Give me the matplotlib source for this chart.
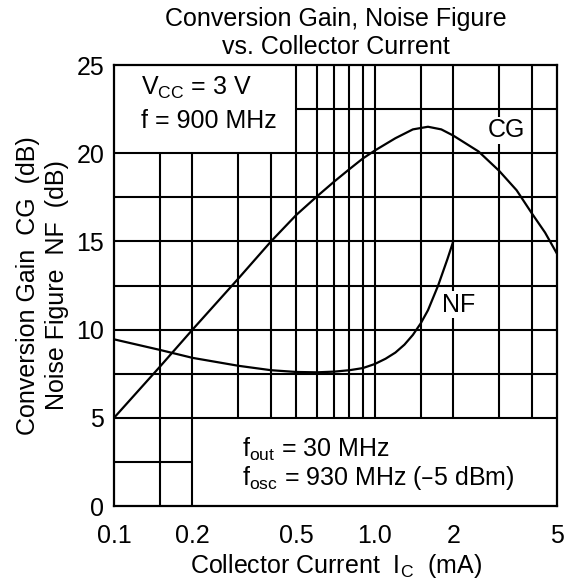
import matplotlib
matplotlib.use('Agg')
import matplotlib.pyplot as plt

plt.rcParams['font.family'] = ['Liberation Sans', 'DejaVu Sans']
plt.rcParams['mathtext.default'] = 'regular'

# Conversion gain CG (dB) vs collector current (mA)
cg_ic = [0.1, 0.15, 0.2, 0.3, 0.4, 0.5, 0.6, 0.7, 0.8, 0.9, 1.0, 1.2, 1.4, 1.6, 1.8, 2.0, 2.5, 3.0, 3.5, 4.0, 4.5, 5.0]
cg_db = [5.0, 7.9, 10.0, 12.9, 15.0, 16.5, 17.55, 18.4, 19.1, 19.7, 20.15, 20.85, 21.35, 21.5, 21.35, 21.0, 20.1, 19.0, 17.9, 16.6, 15.5, 14.3]

# Noise figure NF (dB)
nf_ic = [0.1, 0.15, 0.2, 0.3, 0.4, 0.5, 0.6, 0.7, 0.8, 0.9, 1.0, 1.1, 1.2, 1.3, 1.4, 1.5, 1.6, 1.75, 1.9, 2.0]
nf_db = [9.45, 8.85, 8.4, 7.95, 7.7, 7.6, 7.58, 7.62, 7.7, 7.82, 8.05, 8.35, 8.7, 9.15, 9.7, 10.35, 11.1, 12.5, 14.0, 15.0]

xticks = [0.1, 0.2, 0.5, 1.0, 2, 5]
xticklabels = ['0.1', '0.2', '0.5', '1.0', '2', '5']
yticks = [0, 5, 10, 15, 20, 25]

fig = plt.figure(figsize=(5.72, 5.83), dpi=100)
ax = fig.add_axes([0.1993, 0.132, 0.7745, 0.7565])
ax.set_xscale('log')
ax.set_xlim(0.1, 5)
ax.set_ylim(0, 25)

# grid, leaving blank areas behind the two notes
gk = dict(color='black', lw=1.5, zorder=1)
ax.vlines([0.15, 0.2], 0, 20, **gk)
ax.vlines([0.3, 0.4], 5, 20, **gk)
ax.vlines([0.5, 0.6, 0.7, 0.8, 0.9, 1.0, 1.5, 2, 3, 4], 5, 25, **gk)
ax.hlines(2.5, 0.1, 0.2, **gk)
ax.hlines([5, 7.5, 10, 12.5, 15, 17.5, 20], 0.1, 5, **gk)
ax.hlines(22.5, 0.5, 5, **gk)

ax.plot(cg_ic, cg_db, color='black', lw=1.6, zorder=3)
ax.plot(nf_ic, nf_db, color='black', lw=1.6, zorder=3)

fs = 18
ax.text(3.2, 21.3, 'CG', fontsize=fs, ha='center', va='center', zorder=4,
        bbox=dict(facecolor='white', edgecolor='none', pad=1))
ax.text(2.1, 11.4, 'NF', fontsize=fs, ha='center', va='center', zorder=4,
        bbox=dict(facecolor='white', edgecolor='none', pad=1))

ax.text(0.127, 23.7, 'V$_{CC}$ = 3 V', fontsize=fs, ha='left', va='center')
ax.text(0.127, 21.8, 'f = 900 MHz', fontsize=fs, ha='left', va='center')
ax.text(0.31, 3.2, 'f$_{out}$ = 30 MHz', fontsize=fs, ha='left', va='center')
ax.text(0.31, 1.6, 'f$_{osc}$ = 930 MHz (\u20135 dBm)', fontsize=fs, ha='left', va='center')

ax.set_xticks(xticks)
ax.set_xticklabels(xticklabels)
ax.xaxis.set_minor_locator(matplotlib.ticker.NullLocator())
ax.set_yticks(yticks)
ax.tick_params(length=0, labelsize=fs)
ax.tick_params(axis='x', pad=13)
ax.tick_params(axis='y', pad=7)
for s in ax.spines.values():
    s.set_linewidth(1.6)

ax.set_title('Conversion Gain, Noise Figure\nvs. Collector Current', fontsize=fs, linespacing=1.2, pad=8)
ax.set_xlabel('Collector Current  I$_C$  (mA)', fontsize=fs, labelpad=3)
ax.set_ylabel('Conversion Gain  CG  (dB)\nNoise Figure  NF  (dB)', fontsize=fs, linespacing=1.3, labelpad=5)

fig.savefig('out.png', dpi=100)
